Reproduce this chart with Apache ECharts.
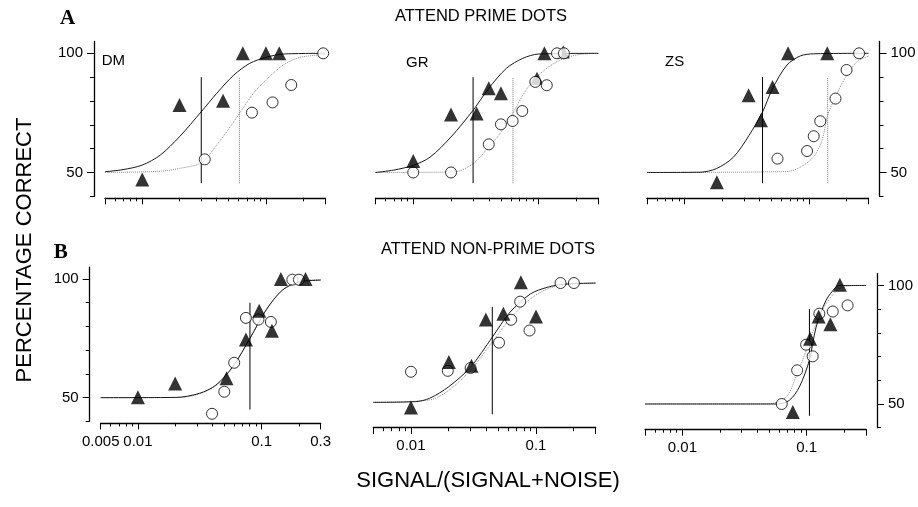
<!DOCTYPE html>
<html><head><meta charset="utf-8">
<script src="https://cdn.jsdelivr.net/npm/echarts@6/dist/echarts.min.js"></script>
<style>html,body{margin:0;padding:0;background:#fff}#c{width:918px;height:507px}</style>
</head><body><div id="c"></div>
<script>
// ---- tick values ----
const xMajorTicks = [0.005, 0.01, 0.1, 0.3];
const xMinorTicks = [0.006, 0.007, 0.008, 0.009, 0.02, 0.03, 0.04, 0.05, 0.06, 0.07, 0.08, 0.09, 0.2];
const xLabelsB1 = [0.005, 0.01, 0.1, 0.3];
const xLabelsB23 = [0.01, 0.1];
const yMajorTicks = [50, 100];
const yMinorTicks = [40, 60, 70, 80, 90];

// ---- A: ATTEND PRIME DOTS ----
const aDmTri = [[0.01,47],[0.02,78.3],[0.045,80.1],[0.065,100],[0.1,100],[0.128,100]];
const aDmCirc = [[0.032,55.5],[0.077,75.1],[0.113,79.4],[0.16,86.7],[0.29,100]];
const aDmSolid = [[0.005,50.3],[0.007,51.2],[0.01,53.1],[0.014,57.3],[0.02,65],[0.03,75.5],[0.04,83.2],[0.055,90.9],[0.074,95.8],[0.1,98.3],[0.138,99.7],[0.3,100]];
const aDmDotted = [[0.005,50],[0.014,50.5],[0.02,51.7],[0.03,54.1],[0.04,61.5],[0.055,71.3],[0.079,83.2],[0.1,88.8],[0.138,95.1],[0.188,98.3],[0.3,99.5]];
const aDmThresh = [0.030, 0.061];

const aGrTri = [[0.01,54.8],[0.02,74.3],[0.032,74.7],[0.04,85.3],[0.05,83.2],[0.111,100]];
const aGrTriHidden = [[0.097,89.5],[0.157,100.5]];
const aGrCirc = [[0.01,50],[0.02,50],[0.04,61.8],[0.05,70.2],[0.062,71.6],[0.074,75.8],[0.094,88],[0.116,86.6],[0.14,100],[0.159,100]];
const aGrSolid = [[0.005,50],[0.007,51],[0.01,53],[0.0136,56.4],[0.02,64.9],[0.03,76.1],[0.04,85.3],[0.0553,93.7],[0.0748,97.9],[0.1,99.7],[0.3,100]];
const aGrDotted = [[0.005,50],[0.021,50.2],[0.03,53.7],[0.04,60.7],[0.05,66.8],[0.0624,75],[0.079,84.5],[0.1,90.9],[0.14,96.5],[0.2,99.3],[0.3,100]];
const aGrThresh = [0.030, 0.0624];

const aZsTri = [[0.0182,45.9],[0.0327,82.4],[0.0411,71.9],[0.0509,85.9],[0.0678,100],[0.14,100]];
const aZsCirc = [[0.0558,55.8],[0.0964,59],[0.109,65.2],[0.123,71.5],[0.163,81],[0.2,93],[0.252,100]];
const aZsSolid = [[0.005,50],[0.0133,50.1],[0.018,51.6],[0.0247,56.4],[0.033,65.6],[0.0423,75.4],[0.051,85.3],[0.0665,95.1],[0.0851,98.9],[0.109,99.8],[0.3,100]];
const aZsDotted = [[0.005,50],[0.0665,50.4],[0.0851,52.2],[0.109,56.7],[0.127,63.5],[0.141,74],[0.158,80.3],[0.179,86.2],[0.202,90.9],[0.243,96.5],[0.3,98.8]];
const aZsThresh = [0.0423, 0.141];
const aThreshRange = [45.5, 90];

// ---- B: ATTEND NON-PRIME DOTS ----
const bDmTri = [[0.01,50.2],[0.02,56],[0.052,58.2],[0.0746,74.5],[0.0955,86.6],[0.121,78.2],[0.143,100],[0.226,100]];
const bDmCirc = [[0.0397,43.2],[0.0499,52.5],[0.06,64.7],[0.0746,83.6],[0.0942,82.9],[0.1187,81.9],[0.177,99.7],[0.2,99.7]];
const bDmSolid = [[0.005,50],[0.0202,50.1],[0.0314,51.8],[0.0427,55.3],[0.0584,63],[0.0804,75],[0.108,86.8],[0.147,95.3],[0.2,98.7],[0.3,99.5]];
const bDmDotted = [[0.005,50],[0.022,50.1],[0.033,52],[0.045,56],[0.06,64],[0.08,74.6],[0.106,86],[0.145,95],[0.2,98.9],[0.3,99.8]];
const bDmThresh = [0.0804];

const bGrTri = [[0.01,47.8],[0.0201,66.9],[0.0305,65.3],[0.0397,84.7],[0.0548,87.1],[0.0757,100.3],[0.1,86]];
const bGrCirc = [[0.01,62.8],[0.0197,63.2],[0.03,64.4],[0.0506,75],[0.0632,84.6],[0.0747,92.2],[0.0887,80.1],[0.157,100],[0.201,100]];
const bGrSolid = [[0.005,50],[0.0109,50.3],[0.0141,51.7],[0.02,56.5],[0.03,64.8],[0.0447,77.3],[0.062,87.8],[0.09,95.4],[0.123,98.2],[0.167,99.5],[0.3,100]];
const bGrDotted = [[0.005,50],[0.0141,51],[0.02,55],[0.03,63.5],[0.0447,75.3],[0.062,85],[0.09,93.3],[0.123,97.5],[0.167,99.3],[0.3,99.9]];
const bGrThresh = [0.0447];

const bZsTri = [[0.0773,46.6],[0.1064,77.5],[0.1248,86.9],[0.155,83.6],[0.185,100.3]];
const bZsCirc = [[0.063,50],[0.0838,64.2],[0.0989,75],[0.1117,70.1],[0.1264,88.1],[0.162,89],[0.2134,91.6]];
const bZsSolid = [[0.005,50],[0.0585,50],[0.0727,51.6],[0.0873,57.2],[0.105,68.4],[0.119,82.4],[0.143,93.7],[0.172,99.3],[0.185,100],[0.3,100]];
const bZsDotted = [[0.005,50],[0.0487,50],[0.0684,53],[0.082,61.4],[0.099,72.6],[0.119,83.9],[0.143,92.3],[0.183,98.6],[0.234,99.9],[0.3,100]];
const bZsThresh = [0.1052];
const bThreshRange = [45, 90];

// ---- layout ----
const LOG = Math.log10;
const X_MIN = LOG(0.005) - 1e-9, X_MAX = LOG(0.3) + 1e-9;
const Y_MIN = 40, Y_MAX = 105;
const FONT = '"Liberation Sans", Arial, sans-serif';

const panels = [
  {l:105,  r:325,   t:41.4,  b:196.3, side:'left',  xl:null,       tri:aDmTri, hid:null, circ:aDmCirc, solid:aDmSolid, dot:aDmDotted, th:aDmThresh, tr:aThreshRange},
  {l:375.5,r:598.5, t:41.4,  b:196.3, side:null,    xl:null,       tri:aGrTri, hid:aGrTriHidden, circ:aGrCirc, solid:aGrSolid, dot:aGrDotted, th:aGrThresh, tr:aThreshRange},
  {l:647,  r:868.5, t:41.4,  b:196.3, side:'right', xl:null,       tri:aZsTri, hid:null, circ:aZsCirc, solid:aZsSolid, dot:aZsDotted, th:aZsThresh, tr:aThreshRange},
  {l:100.7,r:320.7, t:267.1, b:421.4, side:'left',  xl:xLabelsB1,  tri:bDmTri, hid:null, circ:bDmCirc, solid:bDmSolid, dot:bDmDotted, th:bDmThresh, tr:bThreshRange},
  {l:373.3,r:595.7, t:271.1, b:426.2, side:null,    xl:xLabelsB23, tri:bGrTri, hid:null, circ:bGrCirc, solid:bGrSolid, dot:bGrDotted, th:bGrThresh, tr:bThreshRange},
  {l:645,  r:866,   t:273.6, b:427.7, side:'right', xl:xLabelsB23, tri:bZsTri, hid:null, circ:bZsCirc, solid:bZsSolid, dot:bZsDotted, th:bZsThresh, tr:bThreshRange}
];

const grid = [], xAxis = [], yAxis = [], series = [];
const toXY = arr => arr.map(([x, y]) => [LOG(x), y]);
const fmtX = v => String(Number(Math.pow(10, v).toPrecision(3)));

panels.forEach((p, i) => {
  grid.push({left:p.l, top:p.t, width:p.r - p.l, height:p.b - p.t, outerBoundsMode:'none', containLabel:false});
  xAxis.push({type:'value', gridIndex:i, min:X_MIN, max:X_MAX, position:'bottom', offset:1.5,
    axisLine:{show:true, onZero:false, lineStyle:{color:'#000', width:1.3}},
    axisTick:{show:true, length:3.5, customValues:xMinorTicks.map(LOG), lineStyle:{color:'#000', width:1}},
    axisLabel:{show:false}, splitLine:{show:false}});
  xAxis.push({type:'value', gridIndex:i, min:X_MIN, max:X_MAX, position:'bottom', offset:1.5,
    axisLine:{show:false, onZero:false},
    axisTick:{show:true, length:6.5, customValues:xMajorTicks.map(LOG), lineStyle:{color:'#000', width:1}},
    axisLabel:{show:!!p.xl, customValues:(p.xl || xMajorTicks).map(LOG), formatter:fmtX, margin:11,
      fontSize:15, fontFamily:FONT, color:'#000', hideOverlap:false},
    splitLine:{show:false}});
  const show = !!p.side;
  const pos = p.side || 'left';
  yAxis.push({type:'value', gridIndex:i, min:Y_MIN, max:Y_MAX, position:pos, offset:11, show:show,
    axisLine:{show:true, onZero:false, lineStyle:{color:'#000', width:1.3}},
    axisTick:{show:true, length:4, customValues:yMinorTicks, lineStyle:{color:'#000', width:1}},
    axisLabel:{show:false}, splitLine:{show:false}});
  yAxis.push({type:'value', gridIndex:i, min:Y_MIN, max:Y_MAX, position:pos, offset:11, show:show,
    axisLine:{show:false, onZero:false},
    axisTick:{show:true, length:7, customValues:yMajorTicks, lineStyle:{color:'#000', width:1}},
    axisLabel:{show:true, customValues:yMajorTicks, margin:11, fontSize:15, fontFamily:FONT, color:'#000'},
    splitLine:{show:false}});

  const xi = 2 * i, yi = 2 * i;
  series.push({type:'line', xAxisIndex:xi, yAxisIndex:yi, data:toXY(p.dot), showSymbol:false, symbol:'none',
    smooth:0.3, lineStyle:{color:'#8a8a8a', width:1, type:'dotted'}, z:2, silent:true});
  series.push({type:'line', xAxisIndex:xi, yAxisIndex:yi, data:toXY(p.solid), showSymbol:false, symbol:'none',
    smooth:0.3, lineStyle:{color:'#1a1a1a', width:1}, z:2, silent:true});
  p.th.forEach((t, k) => {
    series.push({type:'line', xAxisIndex:xi, yAxisIndex:yi, data:[[LOG(t), p.tr[0]], [LOG(t), p.tr[1]]],
      showSymbol:false, symbol:'none',
      lineStyle:k === 0 ? {color:'#000', width:1} : {color:'#777', width:1, type:'dotted'}, z:2, silent:true});
  });
  if (p.hid) {
    series.push({type:'scatter', xAxisIndex:xi, yAxisIndex:yi, data:toXY(p.hid), symbol:'triangle', symbolSize:13,
      itemStyle:{color:'#000'}, z:3, silent:true});
  }
  series.push({type:'scatter', xAxisIndex:xi, yAxisIndex:yi, data:toXY(p.circ), symbol:'circle', symbolSize:11,
    itemStyle:{color:'#fff', borderColor:'#000', borderWidth:1}, z:4, silent:true});
  series.push({type:'scatter', xAxisIndex:xi, yAxisIndex:yi, data:toXY(p.tri), symbol:'triangle', symbolSize:14,
    itemStyle:{color:'#000'}, z:5, silent:true});
});

function txt(text, x, y, size, opts) {
  opts = opts || {};
  return {type:'text', x:x, y:y, rotation:opts.rot || 0, silent:true,
    style:{text:text, fill:'#000', fontSize:size, fontFamily:opts.family || FONT, fontWeight:opts.weight || 'normal',
      align:opts.align || 'center', textAlign:opts.align || 'center', verticalAlign:'middle', textVerticalAlign:'middle'}};
}

const graphic = [
  txt('A', 67.5, 18.3, 21, {family:'"Liberation Serif", "Times New Roman", serif', weight:'bold'}),
  txt('B', 60.8, 252.7, 21, {family:'"Liberation Serif", "Times New Roman", serif', weight:'bold'}),
  txt('ATTEND PRIME DOTS', 481, 16, 16.5),
  txt('ATTEND NON-PRIME DOTS', 488, 249, 16.5),
  txt('DM', 101.7, 60.5, 15, {align:'left'}),
  txt('GR', 406, 63, 15, {align:'left'}),
  txt('ZS', 665, 61.5, 15, {align:'left'}),
  txt('PERCENTAGE CORRECT', 25, 250, 22, {rot:Math.PI / 2}),
  txt('SIGNAL/(SIGNAL+NOISE)', 488, 481, 22)
];

const chart = echarts.init(document.getElementById('c'), null, {renderer:'canvas'});
chart.setOption({animation:false, backgroundColor:'#fff', grid:grid, xAxis:xAxis, yAxis:yAxis, series:series, graphic:graphic});
</script></body></html>
